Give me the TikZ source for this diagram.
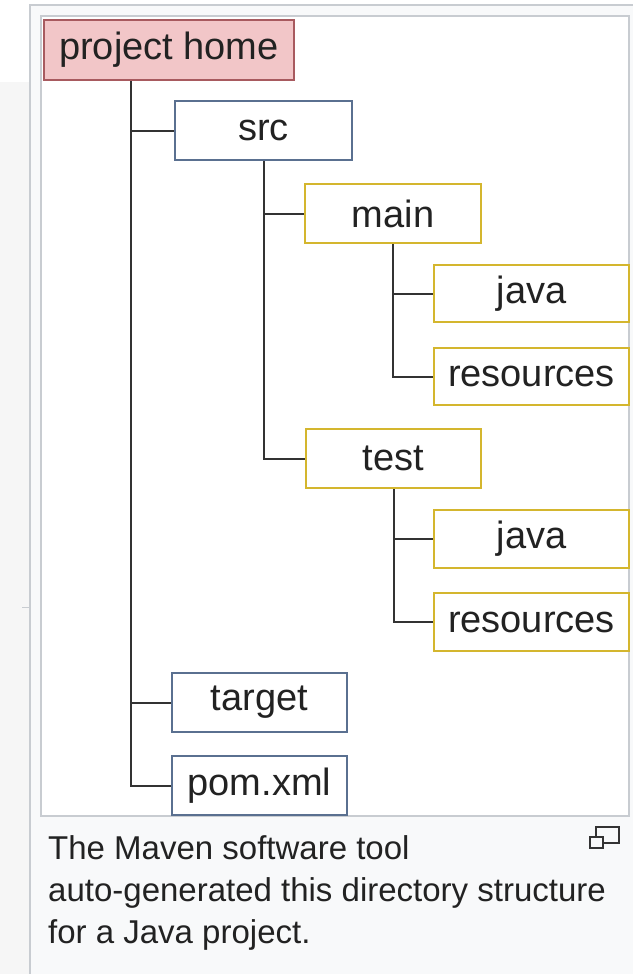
\documentclass[tikz,border=0pt]{standalone}
\usepackage{fontspec}
\setmainfont{Liberation Sans}
\definecolor{pageGrey}{HTML}{F6F6F6}
\definecolor{thumbBg}{HTML}{F8F9FA}
\definecolor{thumbLine}{HTML}{C8CCD1}
\definecolor{homeFill}{HTML}{F2C6C8}
\definecolor{homeLine}{HTML}{A85A5F}
\definecolor{blueLine}{HTML}{5A7090}
\definecolor{yellowLine}{HTML}{D4B62E}
\definecolor{wireCol}{HTML}{333333}
\definecolor{textCol}{HTML}{222222}
\tikzset{
  dirbox/.style={draw, line width=2pt, fill=white, inner sep=0pt, anchor=north west,
    text=textCol, font=\fontsize{38}{44}\selectfont},
  homebox/.style={dirbox, draw=homeLine, fill=homeFill},
  bluebox/.style={dirbox, draw=blueLine},
  yellowbox/.style={dirbox, draw=yellowLine},
  wire/.style={draw=wireCol, line width=2pt},
  captext/.style={anchor=base west, inner sep=0pt, text=textCol, font=\fontsize{33}{41}\selectfont}
}
\begin{document}
\begin{tikzpicture}[x=1pt,y=-1pt]
\useasboundingbox (0,0) rectangle (632,974);
% page background
\fill[white] (0,0) rectangle (632,974);
\fill[pageGrey] (0,82) rectangle (29,974);
\draw[thumbLine, line width=1pt] (22,607) -- (30,607);
% thumbnail frame
\draw[fill=thumbBg, draw=thumbLine, line width=1.5pt] (30,5) rectangle (650,990);
\draw[fill=white, draw=thumbLine, line width=1.5pt] (41,16) rectangle (629,816);

% nodes
\node[homebox, minimum width=250pt, minimum height=60pt] (ph) at (43,19) {project home};
\node[bluebox, minimum width=177pt, minimum height=59pt] (src) at (174,100) {src};
\node[yellowbox, minimum width=176pt, minimum height=59pt] (main) at (304,183) {main};
\node[yellowbox, minimum width=195pt, minimum height=57pt] (java1) at (433,264) {java};
\node[yellowbox, minimum width=195pt, minimum height=57pt] (res1) at (433,347) {resources};
\node[yellowbox, minimum width=175pt, minimum height=59pt] (test) at (305,428) {test};
\node[yellowbox, minimum width=195pt, minimum height=58pt] (java2) at (433,509) {java};
\node[yellowbox, minimum width=195pt, minimum height=58pt] (res2) at (433,592) {resources};
\node[bluebox, minimum width=175pt, minimum height=59pt] (target) at (171,672) {target};
\node[bluebox, minimum width=175pt, minimum height=59pt] (pom) at (171,755) {pom.xml};

% connectors
\draw[wire] ([xshift=-38pt]ph.south) |- (pom.west);
\draw[wire] ([xshift=-38pt]ph.south) |- (src.west);
\draw[wire] ([xshift=-38pt]ph.south) |- (target.west);
\draw[wire] (src.south) |- (test.west);
\draw[wire] (src.south) |- (main.west);
\draw[wire] (main.south) |- (res1.west);
\draw[wire] (main.south) |- (java1.west);
\draw[wire] (test.south) |- (res2.west);
\draw[wire] (test.south) |- (java2.west);

% caption
\node[captext] (cap1) at (48,859) {The Maven software tool};
\node[captext] (cap2) at (48,901) {auto-generated this directory structure};
\node[captext] (cap3) at (48,943) {for a Java project.};
% enlarge icon
\draw[draw=wireCol, line width=1.3pt] (596,827) rectangle (619,843);
\draw[draw=wireCol, fill=thumbBg, line width=1.3pt] (590,837) rectangle (603,848);
\end{tikzpicture}
\end{document}
